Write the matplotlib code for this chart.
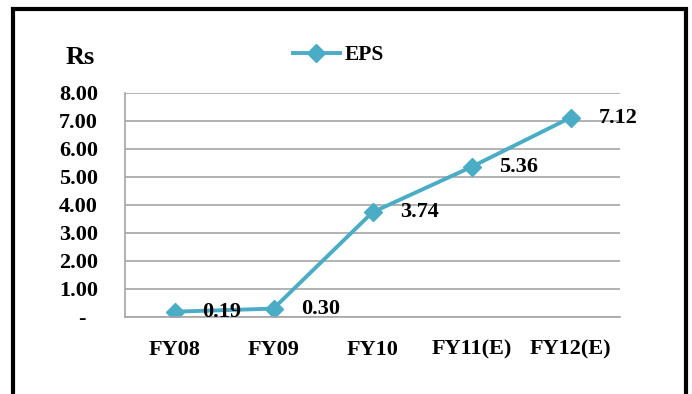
import matplotlib.pyplot as plt
from matplotlib.patches import Rectangle

years = ['FY08', 'FY09', 'FY10', 'FY11(E)', 'FY12(E)']
eps = [0.19, 0.30, 3.74, 5.36, 7.12]
yticks = [0, 1, 2, 3, 4, 5, 6, 7, 8]
ylabels = ['-  ', '1.00', '2.00', '3.00', '4.00', '5.00', '6.00', '7.00', '8.00']

plt.rcParams['font.family'] = 'Liberation Serif'
plt.rcParams['font.weight'] = 'bold'

fig = plt.figure(figsize=(6.92, 3.94), dpi=100)
W, H = 692, 394
ax = fig.add_axes([125/W, 1-317/H, 495/W, 224/H])

x = list(range(len(years)))
ax.plot(x, eps, color='#4BACC6', lw=2.8, marker='D', ms=9, label='EPS')

# value labels to the right of each point
for xi, v in zip(x, eps):
    ax.annotate('%.2f' % v, (xi, v), xytext=(20, 0), textcoords='offset points',
                fontsize=16, fontweight='bold', va='center', ha='left')

ax.set_xlim(-0.5, 4.5)
ax.set_ylim(0, 8)
ax.set_yticks(yticks)
ax.set_yticklabels(ylabels)
ax.set_xticks(x)
ax.set_xticklabels(years)
ax.tick_params(length=0, labelsize=16)
ax.tick_params(axis='x', pad=16.5)
ax.tick_params(axis='y', pad=19.5)
ax.grid(axis='y', color='#A6A6A6', lw=1.2)
ax.set_axisbelow(True)
for s in ['top', 'right']:
    ax.spines[s].set_visible(False)
ax.spines['left'].set_color('#A6A6A6')
ax.spines['bottom'].set_color('#A6A6A6')
ax.spines['left'].set_linewidth(1.2)
ax.spines['bottom'].set_linewidth(1.2)

fig.text(80/W, 1-57/H, 'Rs', fontsize=19, fontweight='bold', ha='center', va='center')
ax.legend(loc='center', bbox_to_anchor=(338/W, 1-55/H), bbox_transform=fig.transFigure,
          frameon=False, handlelength=2.2, handletextpad=0.2,
          prop={'weight': 'bold', 'size': 15.5})

# outer frame
fig.patches.append(Rectangle((13/W, -0.1), (686-13)/W, 1.1-9/H, transform=fig.transFigure,
                             fill=False, ec='black', lw=3))

fig.savefig('out.png', dpi=100)
